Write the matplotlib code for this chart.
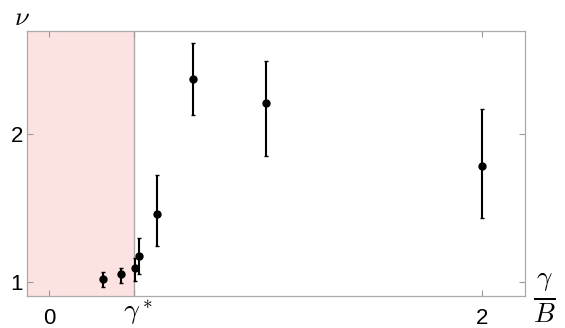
import matplotlib
matplotlib.use("Agg")
from matplotlib import pyplot as plt
import numpy as np

plt.rcParams['mathtext.fontset'] = 'cm'
plt.rcParams['font.family'] = ['Liberation Sans', 'DejaVu Sans']

# measured exponent nu against gamma/B
gamma = [0.249, 0.332, 0.398, 0.417, 0.500, 0.666, 1.000, 2.000]
nu = [1.018, 1.054, 1.095, 1.176, 1.457, 2.374, 2.212, 1.782]
err_lo = [0.054, 0.059, 0.086, 0.122, 0.216, 0.244, 0.363, 0.348]
err_hi = [0.050, 0.039, 0.069, 0.121, 0.264, 0.243, 0.283, 0.387]

gamma_star = 0.391
x_ticks = [0, gamma_star, 2]
x_labels = ['0', '', '2']
y_ticks = [1, 2]

fig = plt.figure(figsize=(5.65, 3.28), dpi=100)
ax = fig.add_axes([0.0483, 0.0985, 0.8817, 0.8075])

ax.set_xlim(-0.100, 2.20)
ax.set_ylim(0.907, 2.698)

# unstable region below gamma*
ax.axvspan(-0.100, gamma_star, color='#fde2e2', lw=0, zorder=0)
ax.axvline(gamma_star, color='#aaaaaa', lw=1.0, zorder=1)

ax.errorbar(gamma, nu, yerr=[err_lo, err_hi], fmt='o', color='black',
            ms=5, lw=1.5, capsize=1.5, capthick=1.0, zorder=3)

ax.set_xticks(x_ticks)
ax.set_xticklabels(x_labels)
ax.set_yticks(y_ticks)
ax.tick_params(direction='in', length=4, color='#999999', labelsize=16,
               top=True, right=True)
ax.tick_params(axis='x', pad=9)
ax.tick_params(axis='y', pad=3)
for s in ax.spines.values():
    s.set_color('#aaaaaa')
    s.set_linewidth(0.9)

# gamma* tick label, set on the digit baseline
ax.annotate(r'$\gamma^*$', xy=(gamma_star, 0), xycoords=('data', 'axes fraction'),
            xytext=(3, -16.5), textcoords='offset points',
            ha='center', va='baseline', fontsize=20, clip_on=False)

fig.text(0.039, 0.945, r'$\nu$', fontsize=19, ha='center', va='center')
fig.text(0.963, 0.092, r'$\frac{\gamma}{B}$', fontsize=28, ha='center', va='center')

fig.savefig('out.png', dpi=100)
